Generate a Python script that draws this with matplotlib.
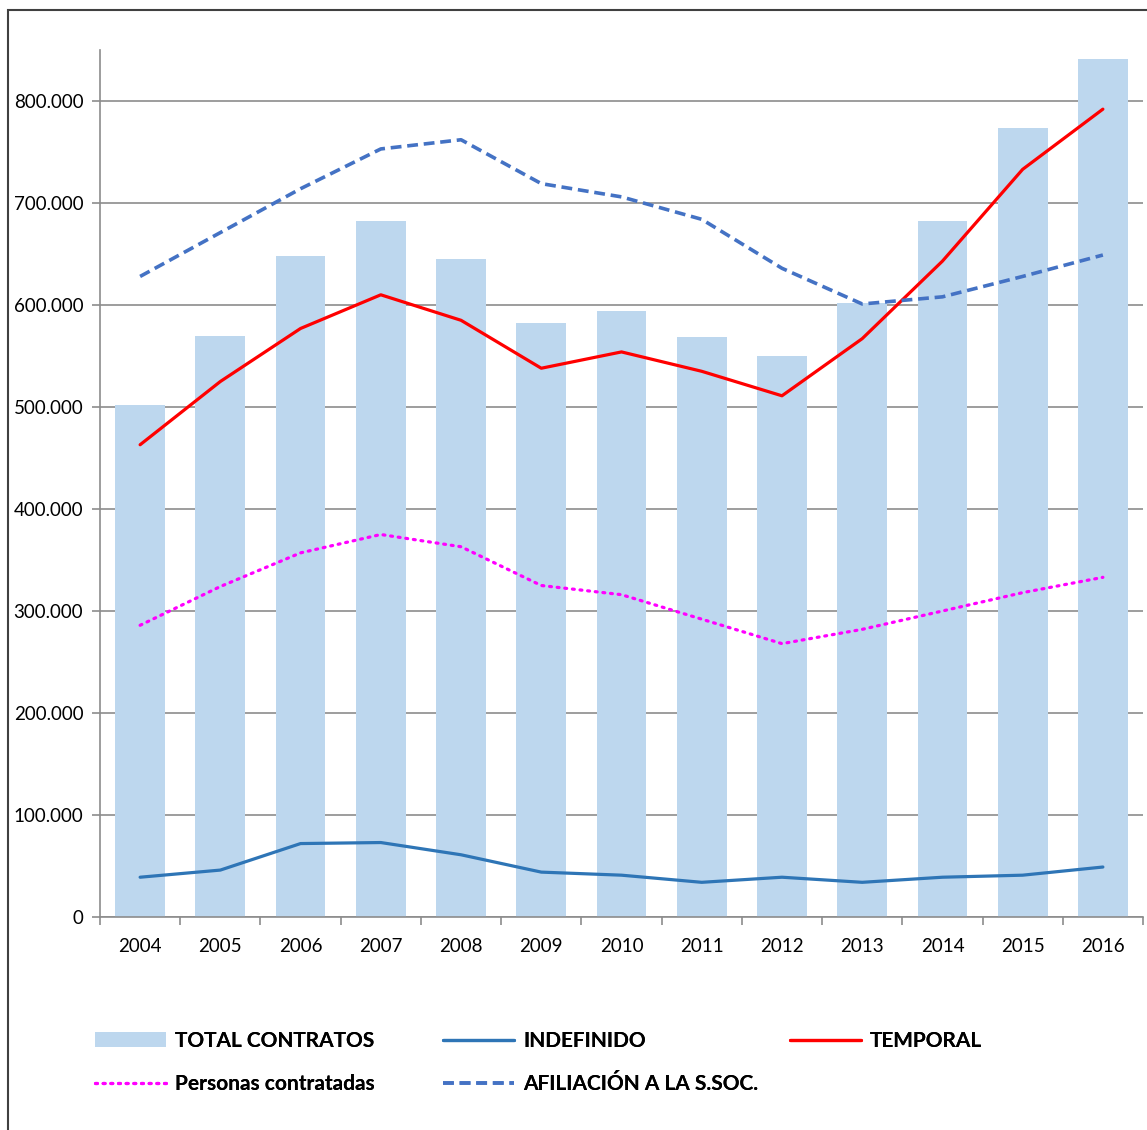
import matplotlib.pyplot as plt
import matplotlib.ticker as mticker
from matplotlib.patches import Rectangle

years = ["2004", "2005", "2006", "2007", "2008", "2009", "2010",
         "2011", "2012", "2013", "2014", "2015", "2016"]
total_contratos = [502000, 570000, 648000, 682000, 645000, 582000, 594000,
                   569000, 550000, 602000, 682000, 774000, 841000]
indefinido = [39000, 46000, 72000, 73000, 61000, 44000, 41000,
              34000, 39000, 34000, 39000, 41000, 49000]
temporal = [463000, 525000, 577000, 610000, 585000, 538000, 554000,
            535000, 511000, 567000, 643000, 733000, 792000]
personas = [286000, 324000, 357000, 375000, 363000, 325000, 316000,
            292000, 268000, 282000, 300000, 318000, 333000]
afiliacion = [628000, 671000, 714000, 753000, 762000, 719000, 706000,
              684000, 636000, 601000, 608000, 628000, 649000]

plt.rcParams['font.family'] = ['Lato', 'DejaVu Sans']

fig = plt.figure(figsize=(11.47, 11.30), dpi=100)
ax = fig.add_axes([100 / 1147, 1 - 917 / 1130, 1043 / 1147, 867 / 1130])

x = list(range(len(years)))
bars = ax.bar(x, total_contratos, width=0.62, color="#BDD7EE", zorder=2,
              label="TOTAL CONTRATOS")
l_ind, = ax.plot(x, indefinido, color="#2E75B6", lw=2.3, zorder=3,
                 solid_capstyle="round", label="INDEFINIDO")
l_tmp, = ax.plot(x, temporal, color="#FF0000", lw=2.3, zorder=3,
                 solid_capstyle="round", label="TEMPORAL")
l_per, = ax.plot(x, personas, color="#FF00FF", lw=2.3, zorder=3,
                 linestyle=(0, (0.6, 1.8)), dash_capstyle="round",
                 label="Personas contratadas")
l_afi, = ax.plot(x, afiliacion, color="#4472C4", lw=2.6, zorder=3,
                 linestyle=(0, (3, 1.6)), label="AFILIACIÓN A LA S.SOC.")

ax.set_xlim(-0.5, len(years) - 0.5)
ax.set_ylim(0, 850000)
ax.yaxis.set_major_locator(mticker.MultipleLocator(100000))
ax.yaxis.set_major_formatter(mticker.FuncFormatter(
    lambda v, p: "0" if v == 0 else f"{int(v):,}".replace(",", ".")))
ax.grid(axis="y", color="#8C8C8C", lw=1.2, zorder=0)

ax.set_xticks(x)
ax.set_xticklabels(years)
ax.set_xticks([i - 0.5 for i in range(len(years) + 1)], minor=True)
ax.tick_params(axis="x", which="major", length=0, pad=15, labelsize=13.5)
ax.tick_params(axis="x", which="minor", length=6, color="#8C8C8C", width=1.2)
ax.tick_params(axis="y", length=6, color="#8C8C8C", width=1.2, labelsize=13.5, pad=6)

for s in ["top", "right"]:
    ax.spines[s].set_visible(False)
for s in ["left", "bottom"]:
    ax.spines[s].set_color("#8C8C8C")
    ax.spines[s].set_linewidth(1.2)

# legend: three columns placed like the Excel legend
columns = [([bars, l_per], ["TOTAL CONTRATOS", "Personas contratadas"], 95),
           ([l_ind, l_afi], ["INDEFINIDO", "AFILIACIÓN A LA S.SOC."], 443),
           ([l_tmp], ["TEMPORAL"], 790)]
for handles, labels, xpix in columns:
    leg = fig.legend(handles, labels, loc="upper left",
                     bbox_to_anchor=(xpix / 1147, 1 - 1031 / 1130),
                     frameon=False, prop={"weight": "bold", "size": 15},
                     handlelength=3.4, handleheight=0.7, handletextpad=0.45,
                     labelspacing=1.1, borderpad=0, borderaxespad=0)
    fig.add_artist(leg)

fig.patches.append(Rectangle((8 / 1147, -0.02), 1.1, 1 - 10 / 1130 + 0.02,
                             transform=fig.transFigure, fill=False,
                             edgecolor="#404040", lw=1.5))

fig.savefig("out.png", dpi=100)
